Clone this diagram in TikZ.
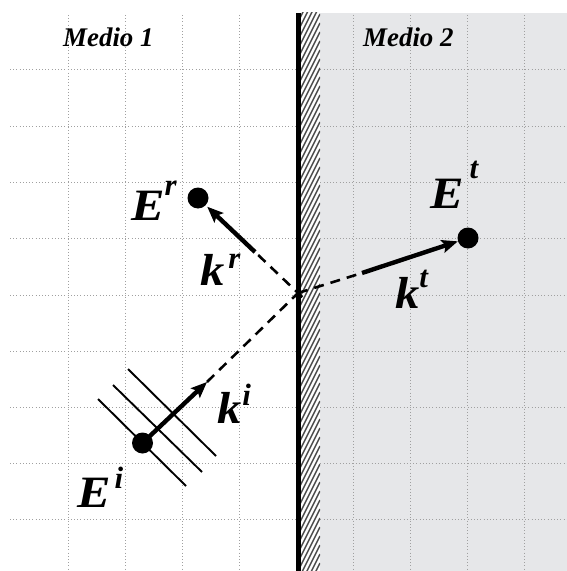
\documentclass[tikz,border=0pt]{standalone}
\usepackage{fontspec}
\setmainfont{Liberation Serif}
\usetikzlibrary{arrows.meta,calc}
\definecolor{medgray}{RGB}{230,231,233}
\definecolor{gridgray}{RGB}{160,160,160}
\newcommand{\bigfont}{\fontsize{45}{45}\selectfont\bfseries\itshape}
\newcommand{\supfont}{\fontsize{31}{31}\selectfont\bfseries\itshape}
\newcommand{\medfont}{\fontsize{27}{27}\selectfont\bfseries\itshape}
\newcommand{\wideE}{\scalebox{1.12}[1]{E}}
\newcommand{\widek}{\scalebox{1.08}[1]{k}}
\tikzset{
  gridline/.style={draw=gridgray, line width=0.8bp, dash pattern=on 1bp off 2.2bp},
  dotnode/.style={circle, fill=black, inner sep=0pt, minimum size=21bp},
  shaft/.style={line width=4.4bp, -{Stealth[length=16bp,width=13bp,inset=3bp]}},
  ray/.style={line width=2.6bp, dash pattern=on 10bp off 7bp},
  front/.style={line width=1.9bp},
  lab/.style={inner sep=0pt, anchor=base west},
}
\begin{document}
\begin{tikzpicture}[x=1bp,y=-1bp]
\useasboundingbox (0,0) rectangle (567,571);
% medium 2 background
\fill[medgray] (320,13) rectangle (567,571);
% grid
\foreach \x in {68,125,182,239,353,410,467,524}
  \draw[gridline] (\x,15) -- (\x,571);
\foreach \y in {69,126,182,238,295,351,407,463,519}
  \draw[gridline] (10,\y) -- (567,\y);
% wall hatch
\fill[white] (300,13) rectangle (320,571);
\begin{scope}
  \clip (300,13) rectangle (320,571);
  \foreach \y in {0,9,...,630}
    \draw[line width=1.5bp, black!70] (300,\y) -- (320,\y-40);
\end{scope}
\fill[black] (296,13) rectangle (300.5,571);
% labels
\node[lab] (m1) at (63,47) {\medfont Medio 1};
\node[lab] (m2) at (363,47) {\medfont Medio 2};
% points
\coordinate (J) at (298,293);
\node[dotnode] (Er) at (198,198) {};
\node[dotnode] (Et) at (468,238) {};
\node[dotnode] (Ei) at (142.5,443) {};
\coordinate (kis) at (207,382);
\coordinate (krs) at (255,252);
\coordinate (kts) at (362,273);
% wavefronts
\coordinate (w1a) at (98,399);  \coordinate (w1b) at (186,486);
\coordinate (w2a) at (113,385); \coordinate (w2b) at (202,472);
\coordinate (w3a) at (128,369); \coordinate (w3b) at (216,456);
\draw[front] (w1a) -- (w1b);
\draw[front] (w2a) -- (w2b);
\draw[front] (w3a) -- (w3b);
% rays
\draw[ray] (kis) -- ($(J)!-6bp!(kis)$);
\draw[ray] ($(J)!-6bp!(krs)$) -- (krs);
\draw[ray] (J) -- (kts);
\draw[shaft] (Ei.center) -- (kis);
\draw[shaft, shorten >=2bp] (krs) -- (Er);
\draw[shaft] (kts) -- (Et);
% vector labels
\node[lab] (Erl) at (131,220) {\bigfont \wideE\hspace{0bp}\raisebox{25bp}{\supfont r}};
\node[lab] (Etl) at (430,208) {\bigfont \wideE\hspace{6bp}\raisebox{30bp}{\supfont t}};
\node[lab] (Eil) at (77,507) {\bigfont \wideE\hspace{4bp}\raisebox{19bp}{\supfont i}};
\node[lab] (krl) at (200,285) {\bigfont \widek\hspace{4bp}\raisebox{17bp}{\supfont r}};
\node[lab] (kil) at (217,423) {\bigfont \widek\hspace{1bp}\raisebox{18bp}{\supfont i}};
\node[lab] (ktl) at (395,308) {\bigfont \widek\hspace{0bp}\raisebox{21bp}{\supfont t}};
\end{tikzpicture}
\end{document}
